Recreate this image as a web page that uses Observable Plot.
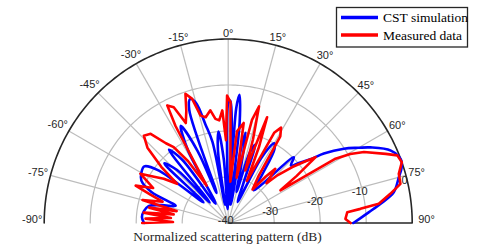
<!DOCTYPE html>
<html><head><meta charset="utf-8">
<script src="https://cdn.jsdelivr.net/npm/d3@7"></script>
<script src="https://cdn.jsdelivr.net/npm/@observablehq/plot@0.6"></script>
<style>body{margin:0;background:#fff} svg{display:block}</style>
</head><body><div id="chart"></div>
<script>
// ---- data (angle in degrees, value in dB) ----
const seriesNames = ["CST simulation", "Measured data"];
const cstAngle = [-90,-86,-82,-78,-75,-72,-68,-64,-60,-56,-53,-50,-47,-44,-42,-39,-36,-33,-29,-26,-23,-21,-19,-17,-15,-13,-11,-10,-8,-6,-4,-2,0,1,2,3,4,5,6.5,8,10,11,13,15,17,19,21,24,27,30,32,35,38,41,45,47.5,50,52.5,54,57.3,60,62,66,70,72.5,75,79.5,82.8,85.6,88,90];
const cstDb =    [-21.7,-21.2,-21.5,-22.3,-25,-28,-22,-19,-18.2,-18,-21,-33,-21,-24,-34,-19.5,-23,-35,-22,-16.5,-23,-33,-14,-11.8,-13,-18,-22,-36,-24,-20,-26,-37,-14,-13.4,-18,-36,-15,-12,-18,-36,-22,-20,-28,-33,-24,-22,-31,-35,-24,-20,-21,-27,-31,-29,-19.8,-21.5,-19.5,-17,-14.3,-10.1,-7.3,-5,-1.3,0,-0.5,-1.6,-3.4,-6.6,-9.3,-11.3,-12.8];
const measAngle = [-90,-89,-87,-85,-83,-81,-79,-77,-75,-72,-70,-68,-65,-62.5,-60.7,-58,-55.5,-52.5,-50,-47,-44,-41,-38,-35.7,-33,-30,-28.5,-27.4,-25.2,-23,-20.5,-18.3,-16.2,-14.4,-12,-9,-7,-5,-3,-1.5,-0.5,1.1,3,5.5,8.8,10.5,13,14.8,16.5,18,20.2,22,24,27,29,31,33,36,39,41,44,46,48.9,51,53,55.5,58,59,60.5,62.4,66.3,68.2,70.7,73.9,77.2,79.8,82.7,83.9,84.8,88,90];
const measDb =    [-21.3,-28,-22,-27.5,-21.5,-28,-22.5,-28.5,-20.7,-25,-22,-18.3,-22,-20,-18.1,-21,-23,-26,-21,-16,-13.6,-14.3,-18,-19.7,-24,-30.6,-16,-11.2,-12.2,-16.4,-14,-10.4,-11.9,-15.9,-16.5,-15.2,-17.2,-17.6,-15.5,-22,-12.3,-13.7,-31,-20,-18,-30,-17,-13.8,-21,-28,-15.5,-22,-30,-18,-16.3,-18,-28,-31,-27,-24.4,-28,-25,-21.5,-19,-16.2,-22,-26.6,-13,-9.5,-6.7,-2.6,-0.4,0,-1.4,-1.6,-4.2,-7,-11.1,-14,-14.5,-13.4];
const angleTicks = [-90,-75,-60,-45,-30,-15,0,15,30,45,60,75,90];
const radialTicks = [-40,-30,-20,-10,0];

// ---- polar helpers ----
const RMIN = -40, PXU = 4.6;
const rad = a => a * Math.PI / 180;
const X = (a, db) => (db - RMIN) * Math.sin(rad(a));
const Y = (a, db) => (db - RMIN) * Math.cos(rad(a));
const cst = cstAngle.map((a, i) => ({a, db: cstDb[i]}));
const meas = measAngle.map((a, i) => ({a, db: measDb[i]}));
const arc = db => d3.range(-90, 90.001, 1).map(a => ({a, db}));
const rings = radialTicks.filter(d => d > RMIN && d < 0).flatMap(db => arc(db).map(p => ({...p, ring: db})));
const spokes = angleTicks.filter(a => Math.abs(a) < 90);
const outline = [{a: 90, db: 0}, {a: 90, db: RMIN}, ...arc(0).reverse()];
const labelR = a => {
  const s = String(Math.abs(a)).length * 6.1 + (a < 0 ? 3.7 : 0) + 4.4;
  return (186 + (s / 2) * Math.abs(Math.sin(rad(a))) + 4 * Math.abs(Math.cos(rad(a)))) / PXU + RMIN;
};
const fontSans = "'Liberation Sans', Arial, sans-serif";
const fontSerif = "'Liberation Serif', 'Times New Roman', serif";

const chart = Plot.plot({
  width: 478, height: 249,
  margin: 0,
  x: {domain: [-40, 40], range: [227.7 - 184, 227.7 + 184], axis: null},
  y: {domain: [0, 40], range: [222.5, 222.5 - 184], axis: null},
  style: {fontFamily: fontSans, background: "#fff"},
  marks: [
    Plot.line(rings, {x: d => X(d.a, d.db), y: d => Y(d.a, d.db), z: "ring", stroke: "#bcbcbc", strokeWidth: 1.2}),
    Plot.link(spokes, {x1: d => 0, y1: d => 0, x2: d => X(d, 0), y2: d => Y(d, 0), stroke: "#bcbcbc", strokeWidth: 1.2}),
    Plot.line(outline, {x: d => X(d.a, d.db), y: d => Y(d.a, d.db), stroke: "#262626", strokeWidth: 1.6}),
    Plot.text(radialTicks.filter(d => d > RMIN), {x: d => X(77, d - 0.65), y: d => Y(77, d - 0.65), text: d => String(d), fontSize: 11, fill: "#262626", dy: -1.5}),
    Plot.text([RMIN], {x: d => 0, y: d => 0, text: d => String(d), fontSize: 11, fill: "#262626", dx: -2.5, dy: -2.5}),
    Plot.text(angleTicks.filter(a => Math.abs(a) < 90), {x: a => X(a, labelR(a)), y: a => Y(a, labelR(a)), text: a => a + "°", fontSize: 11, fill: "#262626"}),
    Plot.text([-90], {x: a => X(a, 0.4), y: a => 0, text: a => a + "°", fontSize: 11, fill: "#262626", textAnchor: "end", dy: -3.5}),
    Plot.text([90], {x: a => X(a, 1.3), y: a => 0, text: a => a + "°", fontSize: 11, fill: "#262626", textAnchor: "start", dy: -3.5}),
    Plot.line(cst, {x: d => X(d.a, d.db), y: d => Y(d.a, d.db), stroke: "#0000ff", strokeWidth: 2.6, curve: "catmull-rom", strokeLinejoin: "round"}),
    Plot.line(meas, {x: d => X(d.a, d.db), y: d => Y(d.a, d.db), stroke: "#ff0000", strokeWidth: 2.6, strokeLinejoin: "round"})
  ]
});

// legend + caption
const svg = d3.select(chart);
const lg = svg.append("g").attr("text-anchor", "start");
lg.append("rect").attr("x", 336.5).attr("y", 7.5).attr("width", 131).attr("height", 39.5)
  .attr("fill", "#fff").attr("stroke", "#262626").attr("stroke-width", 1.3);
const legendColors = ["#0000ff", "#ff0000"];
seriesNames.forEach((name, i) => {
  const yy = 17.5 + i * 17.5;
  lg.append("line").attr("x1", 341).attr("x2", 378).attr("y1", yy).attr("y2", yy)
    .attr("stroke", legendColors[i]).attr("stroke-width", 3.5);
  lg.append("text").attr("x", 383).attr("y", yy).attr("dy", "0.35em").attr("text-anchor", "start")
    .attr("font-family", fontSerif).attr("font-size", 13.5).attr("fill", "#000").text(name);
});
svg.append("text").attr("x", 227.5).attr("y", 236).attr("dy", "0.35em").attr("text-anchor", "middle")
  .attr("font-family", fontSerif).attr("font-size", 13.5).attr("fill", "#262626")
  .text("Normalized scattering pattern (dB)");
document.getElementById("chart").append(chart);
</script>
</body></html>
